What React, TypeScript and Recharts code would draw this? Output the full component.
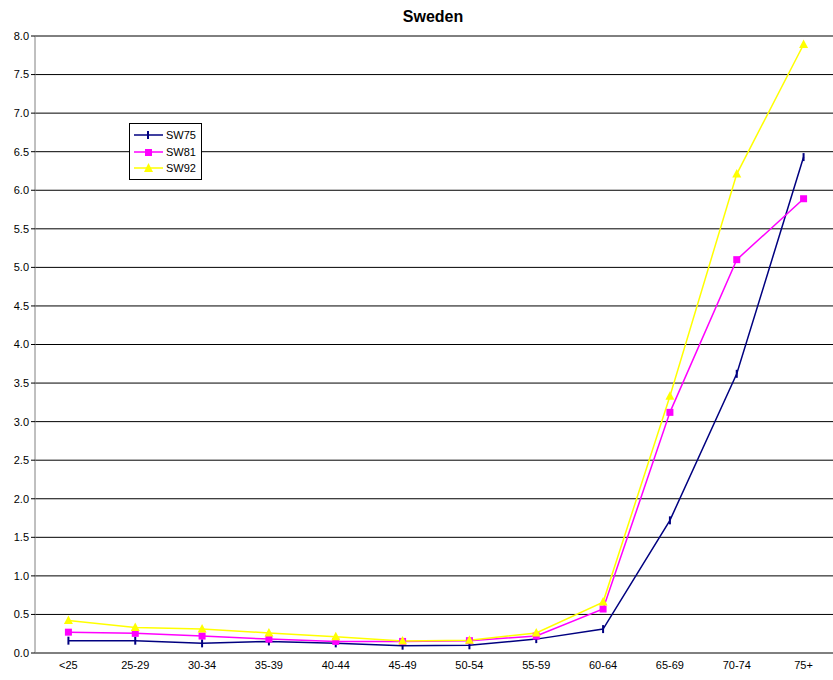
import { LineChart, Line, XAxis, YAxis, CartesianGrid } from 'recharts'

const ageGroups = ['<25', '25-29', '30-34', '35-39', '40-44', '45-49', '50-54', '55-59', '60-64', '65-69', '70-74', '75+']
const sw75 = [0.16, 0.16, 0.125, 0.15, 0.125, 0.095, 0.1, 0.18, 0.31, 1.72, 3.62, 6.43]
const sw81 = [0.27, 0.255, 0.22, 0.18, 0.15, 0.15, 0.16, 0.22, 0.57, 3.12, 5.1, 5.89]
const sw92 = [0.42, 0.33, 0.31, 0.26, 0.21, 0.155, 0.165, 0.26, 0.66, 3.33, 6.21, 7.89]
const yTicks = [0, 0.5, 1, 1.5, 2, 2.5, 3, 3.5, 4, 4.5, 5, 5.5, 6, 6.5, 7, 7.5, 8]

const data = ageGroups.map((g, i) => ({ i, name: g, SW75: sw75[i], SW81: sw81[i], SW92: sw92[i] }))
const catTicks = ageGroups.map((_, i) => i)
const sepTicks = [...ageGroups.map((_, i) => i - 0.5), ageGroups.length - 0.5]

const font = 'Arial, "Liberation Sans", sans-serif'

const DashDot = (p: any) => <line key={p.index} x1={p.cx} x2={p.cx} y1={p.cy - 4} y2={p.cy + 4} stroke="#000080" strokeWidth={2} />
const SquareDot = (p: any) => <rect key={p.index} x={p.cx - 3.5} y={p.cy - 3.5} width={7} height={7} fill="#FF00FF" />
const TriDot = (p: any) => (
  <polygon key={p.index} points={`${p.cx},${p.cy - 5} ${p.cx - 4.5},${p.cy + 3.5} ${p.cx + 4.5},${p.cy + 3.5}`} fill="#FFFF00" />
)

const legendItems = [
  { name: 'SW75', color: '#000080', mark: 'dash' },
  { name: 'SW81', color: '#FF00FF', mark: 'square' },
  { name: 'SW92', color: '#FFFF00', mark: 'tri' },
]

function LegendBox() {
  return (
    <div style={{ position: 'absolute', left: 129, top: 123, background: '#fff', border: '1px solid #000', width: 73, height: 57, boxSizing: 'border-box', padding: '3px 0 0 3px', fontFamily: font, fontSize: 11 }}>
      {legendItems.map((it) => (
        <div key={it.name} style={{ display: 'flex', alignItems: 'center', height: 16.5 }}>
          <svg width={32} height={12}>
            <line x1={1} x2={30} y1={6} y2={6} stroke={it.color} strokeWidth={1.5} />
            {it.mark === 'dash' && <line x1={15} x2={15} y1={2} y2={10} stroke={it.color} strokeWidth={2} />}
            {it.mark === 'square' && <rect x={12} y={3} width={7} height={7} fill={it.color} />}
            {it.mark === 'tri' && <polygon points="15.5,1 11,10 20,10" fill={it.color} />}
          </svg>
          <span style={{ marginLeft: 1 }}>{it.name}</span>
        </div>
      ))}
    </div>
  )
}

export default function App() {
  return (
    <div style={{ position: 'absolute', left: 0, top: 0, width: 833, height: 680, background: '#fff', overflow: 'hidden' }}>
      <div style={{ position: 'absolute', left: 0, width: 866, top: 8, textAlign: 'center', fontFamily: font, fontWeight: 'bold', fontSize: 16 }}>
        Sweden
      </div>
      <LineChart width={837} height={680} data={data} margin={{ top: 36, right: 0, left: 0, bottom: 5 }}>
        <CartesianGrid vertical={false} stroke="#000" strokeOpacity={1} />
        <XAxis
          dataKey="i"
          type="number"
          domain={[-0.5, ageGroups.length - 0.5]}
          ticks={catTicks}
          tickFormatter={(v: number) => ageGroups[v]}
          tickLine={false}
          axisLine={{ stroke: '#808080' }}
          tick={{ fill: '#000', fontSize: 11, fontFamily: font }}
          interval={0}
          height={22}
        />
        <XAxis
          xAxisId="sep"
          dataKey="i"
          type="number"
          domain={[-0.5, ageGroups.length - 0.5]}
          ticks={sepTicks}
          tick={false}
          tickLine={{ stroke: '#000' }}
          tickSize={5}
          axisLine={false}
          height={0}
          interval={0}
        />
        <YAxis
          domain={[0, 8]}
          ticks={yTicks}
          tickFormatter={(v: number) => v.toFixed(1)}
          interval={0}
          width={35}
          axisLine={{ stroke: '#808080' }}
          tickLine={{ stroke: '#000' }}
          tickSize={4}
          tick={{ fill: '#000', fontSize: 11, fontFamily: font }}
        />
        <Line type="linear" dataKey="SW75" stroke="#000080" strokeWidth={1.5} dot={DashDot} activeDot={false} isAnimationActive={false} />
        <Line type="linear" dataKey="SW81" stroke="#FF00FF" strokeWidth={1.5} dot={SquareDot} activeDot={false} isAnimationActive={false} />
        <Line type="linear" dataKey="SW92" stroke="#FFFF00" strokeWidth={1.5} dot={TriDot} activeDot={false} isAnimationActive={false} />
      </LineChart>
      <LegendBox />
    </div>
  )
}
